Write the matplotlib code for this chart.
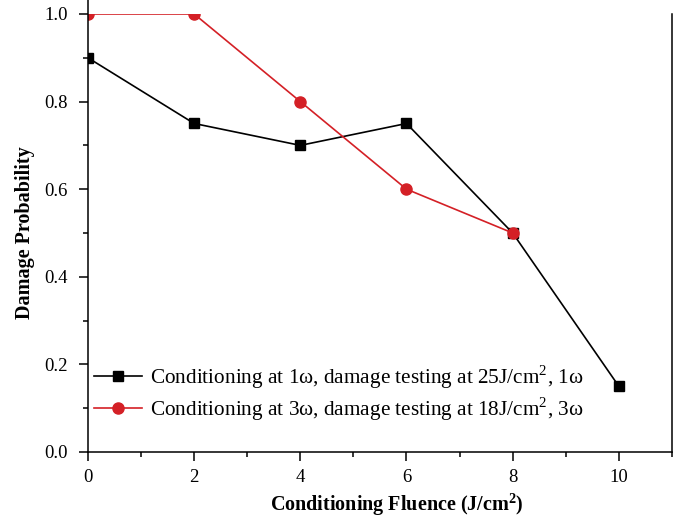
import numpy as np
import matplotlib.pyplot as plt
from matplotlib.ticker import MultipleLocator

plt.rcParams['font.family'] = ['Liberation Serif', 'DejaVu Serif']
plt.rcParams['mathtext.fontset'] = 'custom'
plt.rcParams['mathtext.rm'] = 'Liberation Serif'
plt.rcParams['mathtext.bf'] = 'Liberation Serif:bold'

# conditioning fluence (J/cm^2) and measured damage probability
fluence_1w = [0, 2, 4, 6, 8, 10]
prob_1w = [0.90, 0.75, 0.70, 0.75, 0.50, 0.15]
fluence_3w = [0, 2, 4, 6, 8]
prob_3w = [1.00, 1.00, 0.80, 0.60, 0.50]

label_1w = 'Conditioning at 1ω, damage testing at 25J/cm$^2$, 1ω'
label_3w = 'Conditioning at 3ω, damage testing at 18J/cm$^2$, 3ω'

fig = plt.figure(figsize=(6.83, 5.2), dpi=100)
ax = fig.add_axes([0.1288, 0.1308, 0.855, 0.8423])

ax.plot(fluence_1w, prob_1w, '-s', color='black', lw=1.2, ms=7, label=label_1w)
ax.plot(fluence_3w, prob_3w, '-o', color='#d42026', lw=1.2, ms=8, label=label_3w)

ax.set_xlim(0, 11)
ax.set_ylim(0, 1.0)
ax.xaxis.set_minor_locator(MultipleLocator(1))
ax.yaxis.set_minor_locator(MultipleLocator(0.1))
ax.set_xticks(np.arange(0, 11, 2))
ax.set_yticks(np.arange(0, 1.01, 0.2))
ax.set_yticklabels([f'{v:.1f}' for v in np.arange(0, 1.01, 0.2)])

ax.tick_params(which='major', direction='out', length=6.5, width=1.1, labelsize=13.5)
ax.tick_params(which='minor', direction='out', length=3.5, width=1.1)
ax.tick_params(axis='x', pad=6)
ax.tick_params(axis='y', pad=8)

ax.spines['top'].set_visible(False)
for s in ['left', 'bottom', 'right']:
    ax.spines[s].set_linewidth(1.1)
ax.spines['left'].set_bounds(0, 1.04)
ax.spines['left'].set_clip_on(False)

ax.set_xlabel('Conditioning Fluence (J/cm$^\\mathbf{2}$)', fontsize=14.5, fontweight='bold')
ax.xaxis.set_label_coords(0.529, -0.09)
ax.set_ylabel('Damage Probability', fontsize=14.5, fontweight='bold', labelpad=7)

ax.legend(loc='center left', bbox_to_anchor=(-0.005, 0.135), frameon=False,
          fontsize=15.3, handlelength=2.3, handletextpad=0.35, labelspacing=0.2,
          borderaxespad=0)

fig.savefig('out.png', dpi=100)
